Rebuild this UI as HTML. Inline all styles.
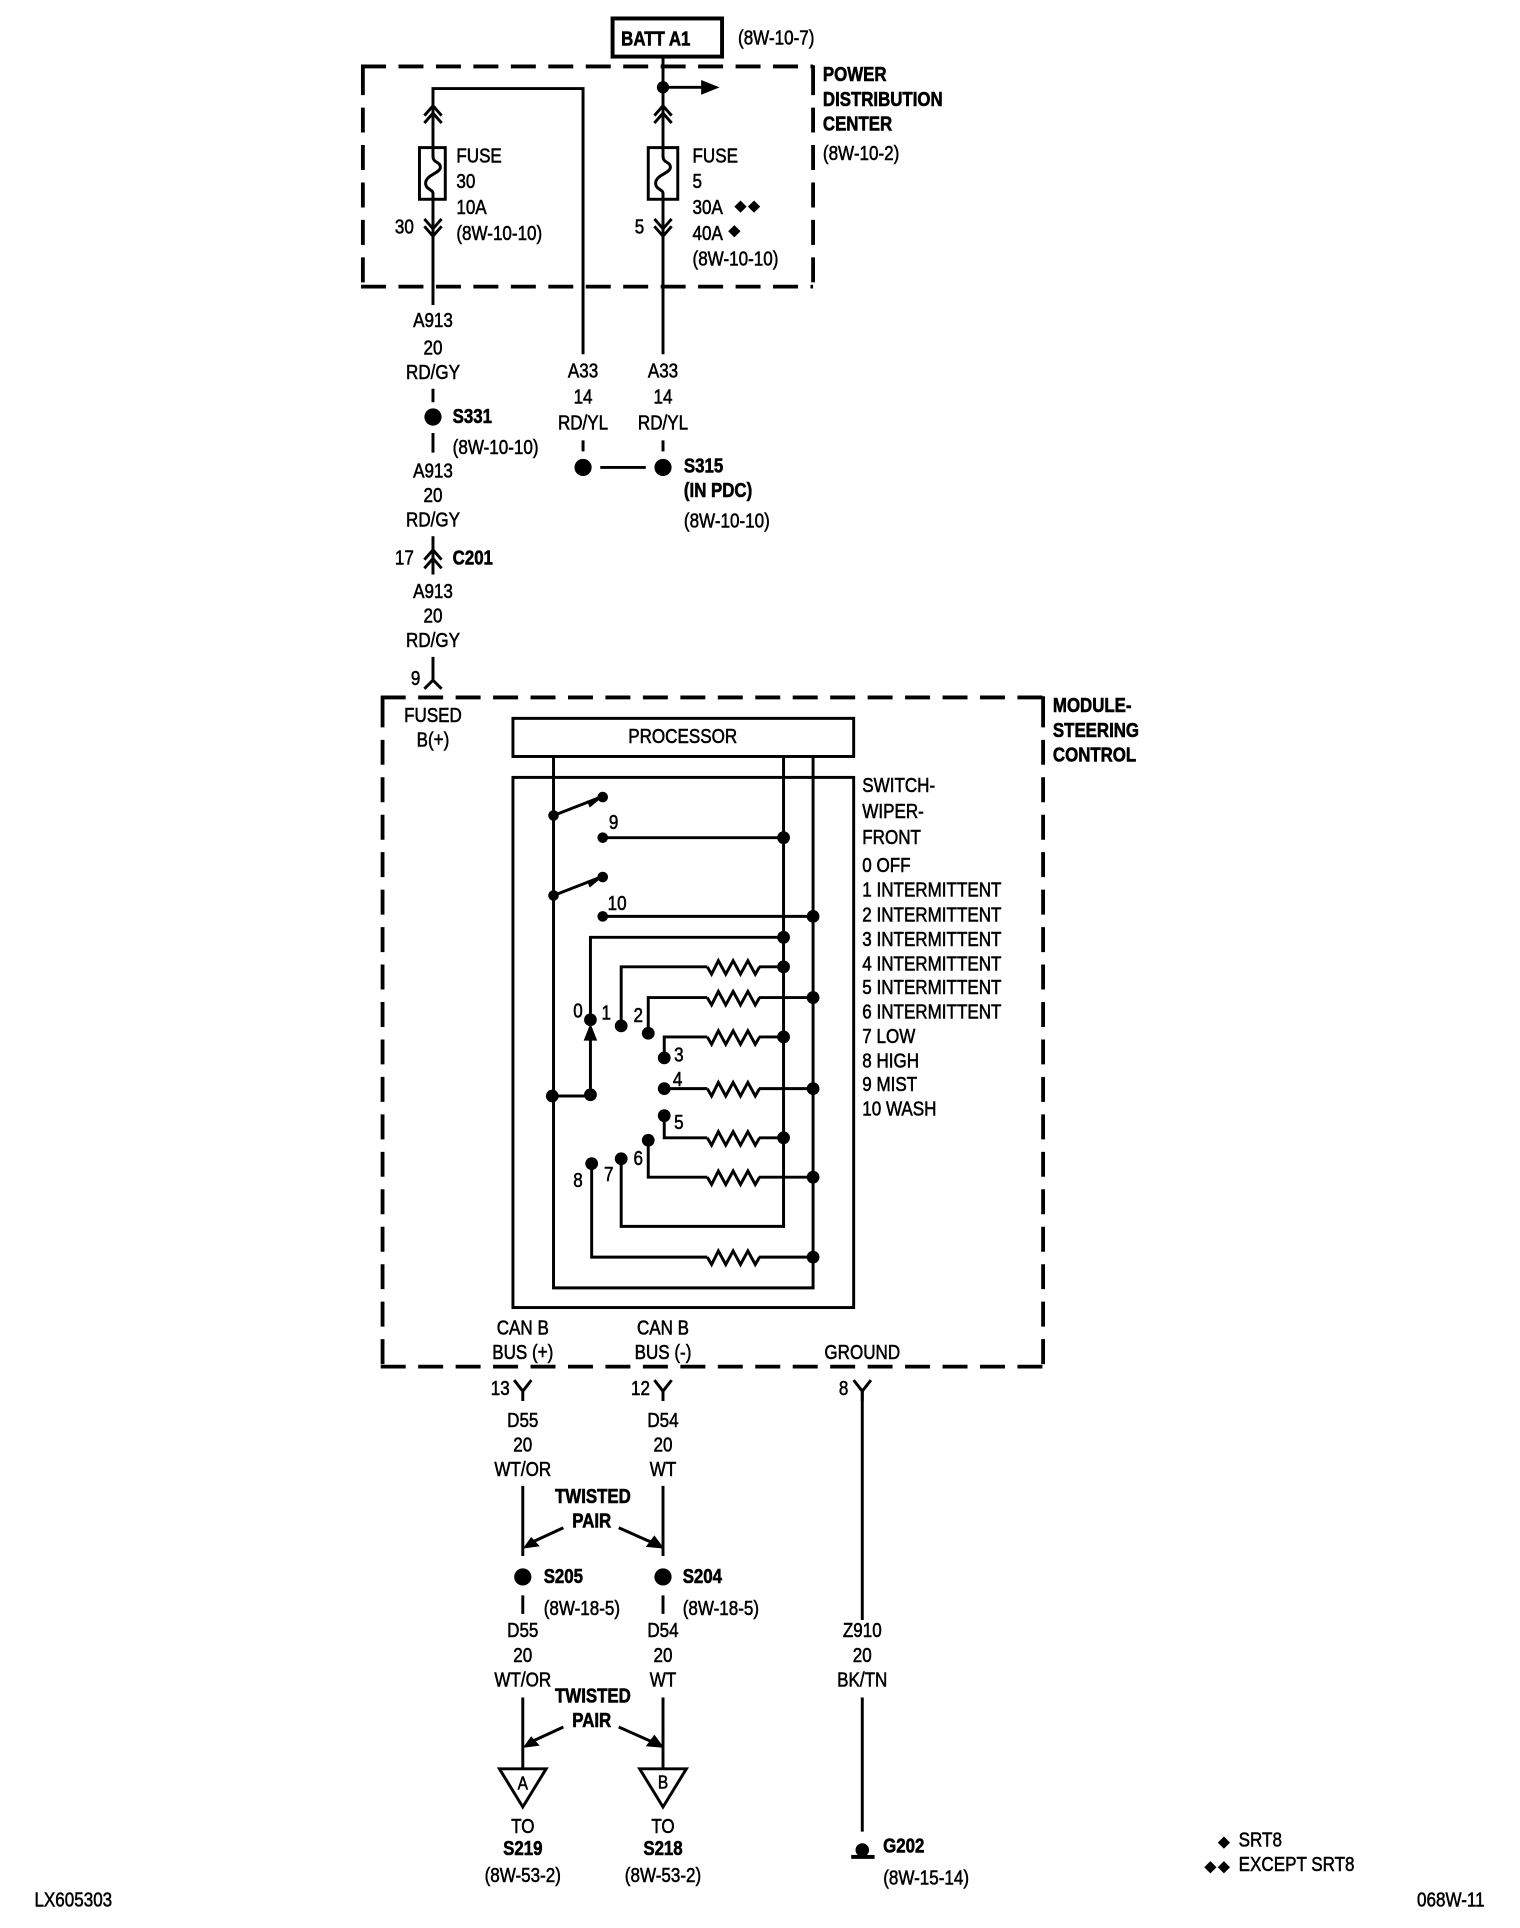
<!DOCTYPE html>
<html><head><meta charset="utf-8"><title>Wiring diagram</title>
<style>
html,body{margin:0;padding:0;background:#fff}
svg{display:block}
text{font-family:"Liberation Sans",sans-serif;font-size:16.5px;fill:#000;stroke:#000;stroke-width:.45;transform-box:fill-box;transform-origin:0 50%;transform:scaleX(.84)}
.c{text-anchor:middle;transform-origin:50% 50%}
.b{font-weight:bold;stroke-width:.5;transform:scaleX(.83)}
.w{fill:none;stroke:#000;stroke-width:2.4;stroke-linejoin:miter}
.d{fill:none;stroke:#000;stroke-width:3.1;stroke-dasharray:20.3 10.15}
.h{fill:#000;stroke:none}
</style></head><body>
<svg xmlns="http://www.w3.org/2000/svg" width="1520" height="1928" viewBox="0 0 1235.7 1567.4">
<defs>
<path id="r" class="w" d="M0 0l3.5 6 5.5-11 6 11 6-11 6 11 6-11 6 11 3.5-6"/>
<path id="up" class="w" d="M-7 8l7-8 7 8M-7 14l7-8 7 8"/>
<path id="dn" class="w" d="M-7-8l7 8 7-8M-7-14l7 8 7-8"/>
<path id="y" class="w" d="M-7 0l7 9 7-9M0 9v8"/>
<path id="dm" class="h" d="M0-5l5 5-5 5-5-5z"/>
</defs>
<rect x="498" y="15" width="89" height="31" fill="none" stroke="#000" stroke-width="3.2"/>
<text class="b" x="505" y="37">BATT A1</text>
<text x="600" y="36">(8W-10-7)</text>
<path class="d" d="M293.5 54H661M293.5 233H661M295 53V57M295 57V234M661 53V57M661 57V234"/>
<text class="b" x="669" y="66">POWER</text>
<text class="b" x="669" y="86">DISTRIBUTION</text>
<text class="b" x="669" y="106">CENTER</text>
<text x="669" y="130">(8W-10-2)</text>
<path class="w" d="M352 248V72H474V288M539 46V288M539 71H572"/>
<circle class="h" cx="539" cy="71" r="5"/>
<path class="h" d="M570 65l15 6-15 6z"/>
<use href="#up" x="352" y="86"/><use href="#up" x="539" y="86"/>
<use href="#dn" x="352" y="192"/><use href="#dn" x="539" y="192"/>
<rect x="341" y="120" width="21" height="42" fill="#fff" stroke="#000" stroke-width="2.4"/>
<rect x="527" y="120" width="24" height="42" fill="#fff" stroke="#000" stroke-width="2.4"/>
<path class="w" d="M352 120v7c0 6 6 4 6 9s-12 6-12 13c0 5 6 5 6 8v5"/>
<path class="w" d="M539 120v7c0 6 6 4 6 9s-12 6-12 13c0 5 6 5 6 8v5"/>
<text x="371" y="132">FUSE</text><text x="371" y="153">30</text><text x="371" y="174">10A</text><text x="371" y="195">(8W-10-10)</text>
<text x="563" y="132">FUSE</text><text x="563" y="153">5</text><text x="563" y="174">30A</text><text x="563" y="195">40A</text><text x="563" y="216">(8W-10-10)</text>
<use href="#dm" x="602" y="168"/><use href="#dm" x="613" y="168"/><use href="#dm" x="597" y="188"/>
<text x="321" y="190">30</text><text x="516" y="190">5</text>
<text class="c" x="352" y="266">A913</text><text class="c" x="352" y="288">20</text><text class="c" x="352" y="308">RD/GY</text>
<path class="w" d="M352 316v11M352 352v16"/>
<circle class="h" cx="352" cy="339" r="7"/>
<text class="b" x="368" y="344">S331</text><text x="368" y="369">(8W-10-10)</text>
<text class="c" x="352" y="388">A913</text><text class="c" x="352" y="408">20</text><text class="c" x="352" y="428">RD/GY</text>
<path class="w" d="M352 436v31M345 455l7-8 7 8M345 462l7-8 7 8"/>
<text x="321" y="459">17</text><text class="b" x="368" y="459">C201</text>
<text class="c" x="352" y="486">A913</text><text class="c" x="352" y="506">20</text><text class="c" x="352" y="526">RD/GY</text>
<path class="w" d="M352 534v19M345 560l7-7 7 7"/>
<text x="334" y="557">9</text>
<text class="c" x="474" y="307">A33</text><text class="c" x="474" y="328">14</text><text class="c" x="474" y="349">RD/YL</text>
<text class="c" x="539" y="307">A33</text><text class="c" x="539" y="328">14</text><text class="c" x="539" y="349">RD/YL</text>
<path class="w" d="M474 358v9M539 358v9M488 380H525"/>
<circle class="h" cx="474" cy="380" r="7"/><circle class="h" cx="539" cy="380" r="7"/>
<text class="b" x="556" y="384">S315</text><text class="b" x="556" y="404">(IN PDC)</text><text x="556" y="429">(8W-10-10)</text>

<path class="d" d="M309.500 567H849.500M309.500 1111H849.500M311 566V571M311 571V1112M848 566V571M848 571V1112"/>
<text class="b" x="856" y="579">MODULE-</text><text class="b" x="856" y="599">STEERING</text><text class="b" x="856" y="619">CONTROL</text>
<text class="c" x="352" y="587">FUSED</text><text class="c" x="352" y="607">B(+)</text>
<rect x="417" y="584" width="277" height="31" fill="none" stroke="#000" stroke-width="2.4"/>
<text class="c" x="555" y="604">PROCESSOR</text>
<rect x="417" y="632" width="277" height="431" fill="none" stroke="#000" stroke-width="2.4"/>
<text x="701" y="644">SWITCH-</text><text x="701" y="665">WIPER-</text><text x="701" y="686">FRONT</text>
<text x="701" y="709">0 OFF</text><text x="701" y="729">1 INTERMITTENT</text><text x="701" y="749">2 INTERMITTENT</text><text x="701" y="769">3 INTERMITTENT</text><text x="701" y="789">4 INTERMITTENT</text><text x="701" y="808">5 INTERMITTENT</text><text x="701" y="828">6 INTERMITTENT</text><text x="701" y="848">7 LOW</text><text x="701" y="868">8 HIGH</text><text x="701" y="887">9 MIST</text><text x="701" y="907">10 WASH</text>
<path class="w" d="M450 615V1047H661V615M637 615V997H505V942"/>
<path class="w" d="M450 663L486 649M450 728L486 714M490 681H637M490 745H661M637 762H480V829M480 890V835M449 891H480"/>
<path class="w" d="M505 834V786H575M617 786H637M527 840V811H575M617 811H661M540 860V843H575M617 843H637M540 885H575M617 885H661M540 907V925H575M617 925H637M527 927V957H575M617 957H661M481 946V1022H575M617 1022H661"/>
<use href="#r" x="575" y="786"/><use href="#r" x="575" y="811"/><use href="#r" x="575" y="843"/><use href="#r" x="575" y="885"/><use href="#r" x="575" y="925"/><use href="#r" x="575" y="957"/><use href="#r" x="575" y="1022"/>
<path class="h" d="M480 832l-5.500 14h11zM488 649.500l-11 1.500 2.500 5.500zM488 714.500l-11 1.500 2.500 5.500z"/>
<g class="h">
<circle cx="450" cy="663" r="4.300"/><circle cx="490" cy="648" r="4.300"/><circle cx="490" cy="681" r="4.300"/><circle cx="637" cy="681" r="5.200"/>
<circle cx="450" cy="728" r="4.300"/><circle cx="490" cy="713" r="4.300"/><circle cx="490" cy="745" r="4.300"/><circle cx="661" cy="745" r="5.200"/>
<circle cx="637" cy="762" r="5.200"/><circle cx="637" cy="786" r="5.200"/><circle cx="661" cy="811" r="5.200"/><circle cx="637" cy="843" r="5.200"/><circle cx="661" cy="885" r="5.200"/><circle cx="637" cy="925" r="5.200"/><circle cx="661" cy="957" r="5.200"/><circle cx="661" cy="1022" r="5.200"/>
<circle cx="480" cy="829" r="5.200"/><circle cx="505" cy="834" r="5.200"/><circle cx="527" cy="840" r="5.200"/><circle cx="540" cy="860" r="5.200"/><circle cx="540" cy="885" r="5.200"/><circle cx="540" cy="907" r="5.200"/><circle cx="527" cy="927" r="5.200"/><circle cx="505" cy="942" r="5.200"/><circle cx="481" cy="946" r="5.200"/>
<circle cx="449" cy="891" r="5.200"/><circle cx="480" cy="890" r="5.200"/>
</g>
<text x="495" y="674">9</text><text x="494" y="740">10</text>
<text x="466" y="827">0</text><text x="489" y="829">1</text><text x="515" y="831">2</text><text x="548" y="863">3</text><text x="547" y="883">4</text><text x="548" y="918">5</text><text x="515" y="947">6</text><text x="491" y="960">7</text><text x="466" y="965">8</text>

<text class="c" x="425" y="1085">CAN B</text><text class="c" x="425" y="1105">BUS (+)</text>
<text class="c" x="539" y="1085">CAN B</text><text class="c" x="539" y="1105">BUS (-)</text>
<text class="c" x="701" y="1105">GROUND</text>
<use href="#y" x="425" y="1122"/><use href="#y" x="539" y="1122"/><use href="#y" x="701" y="1122"/>
<text x="399" y="1134">13</text><text x="513" y="1134">12</text><text x="682" y="1134">8</text>
<path class="w" d="M701 1131V1317M701 1380V1489"/>
<text class="c" x="701" y="1331">Z910</text><text class="c" x="701" y="1351">20</text><text class="c" x="701" y="1371">BK/TN</text>
<circle class="h" cx="701" cy="1504" r="5.500"/>
<rect class="h" x="692" y="1508" width="19" height="3.200"/>
<text class="b" x="718" y="1506">G202</text><text x="718" y="1532">(8W-15-14)</text>

<text class="c" x="425" y="1160">D55</text><text class="c" x="425" y="1180">20</text><text class="c" x="425" y="1200">WT/OR</text>
<text class="c" x="539" y="1160">D54</text><text class="c" x="539" y="1180">20</text><text class="c" x="539" y="1200">WT</text>
<path class="w" d="M425 1208V1265M539 1208V1265M458 1242L432 1254M503 1242L530 1254"/>
<path class="h" d="M425 1259l6.800-9.500 7 7.600zM540 1259l-8-10.800-7 9.400z"/>
<text class="b c" x="482" y="1222">TWISTED</text><text class="b c" x="481" y="1242">PAIR</text>
<circle class="h" cx="425" cy="1282" r="7"/><circle class="h" cx="539" cy="1282" r="7"/>
<text class="b" x="442" y="1287">S205</text><text class="b" x="555" y="1287">S204</text>
<text x="442" y="1313">(8W-18-5)</text><text x="555" y="1313">(8W-18-5)</text>
<path class="w" d="M425 1297v15M539 1297v15"/>
<text class="c" x="425" y="1331">D55</text><text class="c" x="425" y="1351">20</text><text class="c" x="425" y="1371">WT/OR</text>
<text class="c" x="539" y="1331">D54</text><text class="c" x="539" y="1351">20</text><text class="c" x="539" y="1371">WT</text>
<path class="w" d="M425 1380V1437M539 1380V1437M458 1404L432 1416M503 1404L530 1416"/>
<path class="h" d="M425 1421l6.800-9.500 7 7.600zM540 1421l-8-10.800-7 9.400z"/>
<text class="b c" x="482" y="1384">TWISTED</text><text class="b c" x="481" y="1404">PAIR</text>
<path class="w" d="M406 1438H444L425 1469zM520 1438H558L539 1469z"/>
<text class="c" x="425" y="1455" style="font-size:15px">A</text><text class="c" x="539" y="1454" style="font-size:15px">B</text>
<text class="c" x="425" y="1490">TO</text><text class="b c" x="425" y="1508">S219</text><text class="c" x="425" y="1530">(8W-53-2)</text>
<text class="c" x="539" y="1490">TO</text><text class="b c" x="539" y="1508">S218</text><text class="c" x="539" y="1530">(8W-53-2)</text>

<use href="#dm" x="995" y="1498"/><use href="#dm" x="984" y="1518"/><use href="#dm" x="995" y="1518"/>
<text x="1007" y="1501">SRT8</text><text x="1007" y="1521">EXCEPT SRT8</text>
<text x="28" y="1550">LX605303</text><text x="1152" y="1550">068W-11</text>
</svg>
</body></html>
